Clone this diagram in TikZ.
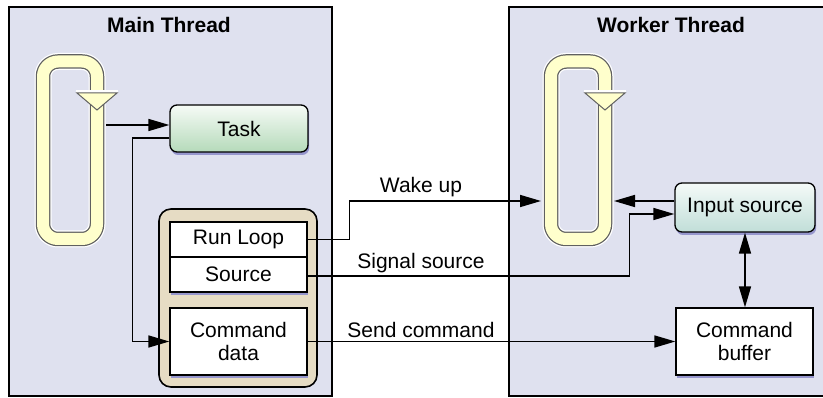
\documentclass[tikz,border=0pt]{standalone}
\usepackage{fontspec}
\setmainfont{Liberation Sans}
\usetikzlibrary{arrows.meta,shadows}
\definecolor{panelbg}{RGB}{223,225,239}
\definecolor{loopfill}{RGB}{255,255,204}
\definecolor{loopedge}{RGB}{96,96,96}
\definecolor{tan}{RGB}{230,220,196}
\definecolor{taskTop}{RGB}{246,251,246}
\definecolor{taskBot}{RGB}{181,218,186}
\definecolor{inTop}{RGB}{244,250,248}
\definecolor{inBot}{RGB}{193,222,216}
\definecolor{shadowc}{RGB}{150,150,205}
\newcommand\rlooptrack{%
  \draw[white, line width=17pt, rounded corners=15pt] (43,61.5) rectangle (97,239);
  \draw[loopedge, line width=14.5pt, rounded corners=15pt] (43,61.5) rectangle (97,239);
  \draw[loopfill, line width=12pt, rounded corners=15pt] (43,61.5) rectangle (97,239);
  \draw[white, line width=2.5pt] (76,91.5) -- (118,91.5);
  \filldraw[fill=loopfill, draw=loopedge, line width=1pt, line join=miter] (77,93) -- (117,93) -- (97,110) -- cycle;
}
\begin{document}
\begin{tikzpicture}[x=1pt,y=-1pt,
  txt/.style={font=\fontsize{21}{23}\selectfont, inner sep=0pt},
  ttl/.style={font=\fontsize{21}{23}\selectfont\bfseries, inner sep=0pt, anchor=base},
  panel/.style={fill=panelbg, draw=black, line width=1.8pt},
  shd/.style={drop shadow={shadow xshift=1.2pt, shadow yshift=-3pt, fill=shadowc, opacity=1}},
  wbox/.style={draw=black, line width=1.3pt, fill=white, minimum width=137pt, align=center, txt, shd},
  gbox/.style={draw=black, line width=1.3pt, rounded corners=7pt, align=center, txt, shd},
  conn/.style={line width=1.6pt, -{Triangle[length=21pt,width=12pt]}},
  dconn/.style={line width=1.6pt, {Triangle[length=21pt,width=12pt]}-{Triangle[length=21pt,width=12pt]}},
  lbl/.style={txt, anchor=base}
]
\useasboundingbox (0,0) rectangle (823,398);
% panels
\draw[panel] (9,7) rectangle (332,396);
\draw[panel] (509,7) rectangle (840,396);
\node[ttl] (mtitle) at (169,33) {Main Thread};
\node[ttl] (wtitle) at (671,33) {Worker Thread};
% loops
\rlooptrack
\begin{scope}[xshift=508pt]
\rlooptrack
\end{scope}
\coordinate (mloopR) at (106,125);
\coordinate (wloopL) at (541,201);
\coordinate (wloopR) at (614,201);
% main thread boxes
\node[gbox, top color=taskTop, bottom color=taskBot, minimum width=138pt, minimum height=47pt] (task) at (239,128.5) {Task};
\node[draw=black, line width=1.6pt, fill=tan, rounded corners=12pt, minimum width=158pt, minimum height=178pt] (container) at (238,298) {};
\node[wbox, minimum height=35pt] (runloop) at (238.5,239.5) {Run Loop};
\node[wbox, minimum height=35pt] (source) at (238.5,274.5) {Source};
\node[wbox, minimum height=67pt] (cmd) at (238.5,341.5) {Command\\data};
% worker thread boxes
\node[gbox, top color=inTop, bottom color=inBot, minimum width=140pt, minimum height=49pt] (input) at (745,207.5) {Input source};
\node[wbox, minimum height=67pt] (cbuf) at (744.5,341.5) {Command\\buffer};
% connectors
\draw[conn] (mloopR) -- (mloopR -| task.west);
\draw[conn] ([yshift=-9.5pt]task.west) -- ++(-37,0) |- (cmd.west);
\draw[conn] (runloop.east) -- ++(42,0) |- (wloopL);
\draw[conn] ([yshift=-1.5pt]source.east) -- ++(322,0) |- ([yshift=-6.5pt]input.west);
\draw[conn] ([yshift=6.5pt]input.west) -- (wloopR);
\draw[conn] (cmd.east) -- (cbuf.west);
\draw[dconn] (input.south) -- (cbuf.north -| input.south);
% labels
\node[lbl] (wake) at (421,193) {Wake up};
\node[lbl] (signal) at (421,269) {Signal source};
\node[lbl] (send) at (421,338) {Send command};
\end{tikzpicture}
\end{document}
